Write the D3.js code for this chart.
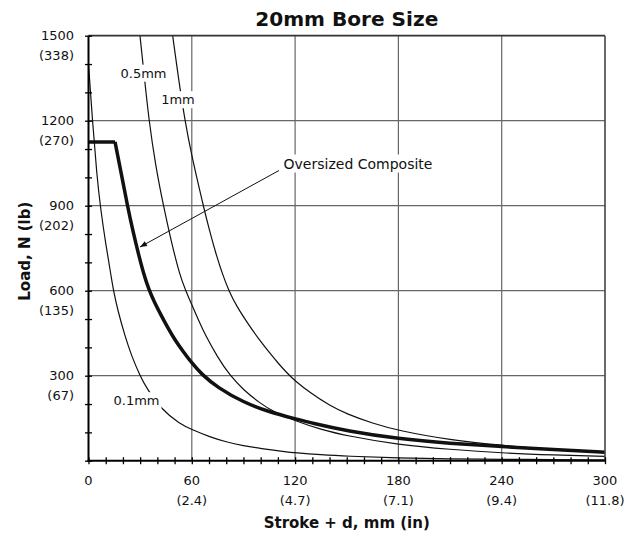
<!DOCTYPE html>
<html>
<head>
<meta charset="utf-8">
<script src="https://cdn.jsdelivr.net/npm/d3@7"></script>
<style>
  body { margin: 0; background: #fff; }
  svg { display: block; }
  text { font-family: "DejaVu Sans", sans-serif; fill: #111; }
</style>
</head>
<body>
<div id="chart"></div>
<script>
// tick values + second-line labels
var xTicks = [0, 60, 120, 180, 240, 300];
var xTickInches = ["", "(2.4)", "(4.7)", "(7.1)", "(9.4)", "(11.8)"];
var yTicks = [300, 600, 900, 1200, 1500];
var yTickPounds = ["(67)", "(135)", "(202)", "(270)", "(338)"];

// curves: [stroke + d (mm), load (N)]
var curve01 = [[0,1400],[2.3,1200],[4.8,1010],[7,890],[10,765],[13.5,638],[14.4,605],[17,530],[21.2,440],[25,370],
  [29.9,300],[33.8,255],[42.5,180],[53,130],[60,110],[70,85],[80,66],[90,53],[100,43],[114,32],[120,28],
  [135,21],[150,16],[180,9],[210,6],[240,5],[270,4],[300,3]];
var curve05 = [[29.9,1500],[32,1380],[35.1,1200],[39,1040],[43.5,900],[48,775],[53,655],[56.5,600],[60,550],
  [64,495],[67.7,445],[75,365],[82.2,300],[90,250],[99.6,203],[107.3,173],[120,141],[135,110],[150,88],
  [180,56],[210,40],[240,27],[270,20],[300,15]];
var curve1 = [[48.9,1500],[52,1360],[56,1200],[60,1075],[64.4,960],[66.7,900],[70,818],[74,730],[78,655],
  [81.5,600],[86,545],[92.8,482],[100,420],[105.4,379],[110,345],[116,305],[120,282],[128.6,240],[140,195],
  [150,165],[165,132],[180,106],[210,73],[240,54],[270,39],[300,28]];
var oversized = [[0,1125],[15.4,1125],[19,1015],[22.6,900],[26,805],[29,730],[32,660],[35,605],[38,563],
  [42,515],[46,470],[50,428],[55,385],[60,345],[65.7,305],[75,258],[90,206],[105,172],[120,148],[130,132],
  [150,105],[180,77],[210,61],[240,50],[270,39],[300,30]];

var width = 626, height = 535;
var pLeft = 88.5, pRight = 605, pTop = 35.7, pBottom = 460.7;

var svg = d3.select("#chart").append("svg")
    .attr("width", width)
    .attr("height", height);

var x = d3.scaleLinear().domain([0, 300]).range([pLeft, pRight]);
var y = d3.scaleLinear().domain([0, 1500]).range([pBottom, pTop]);

svg.append("defs").append("clipPath").attr("id", "plot")
  .append("rect")
    .attr("x", pLeft).attr("y", pTop)
    .attr("width", pRight - pLeft).attr("height", pBottom - pTop);

// grid
var grid = svg.append("g").attr("stroke", "#666").attr("stroke-width", 1.2);
grid.selectAll(".vg").data(xTicks.slice(1, -1)).enter().append("line")
    .attr("x1", d => x(d)).attr("x2", d => x(d))
    .attr("y1", pTop).attr("y2", pBottom);
grid.selectAll(".hg").data(yTicks.slice(0, -1)).enter().append("line")
    .attr("x1", pLeft).attr("x2", pRight)
    .attr("y1", d => y(d)).attr("y2", d => y(d));

// curves (b-spline smooths out the reading noise)
var line = d3.line()
    .x(d => x(d[0]))
    .y(d => y(d[1]))
    .curve(d3.curveBasis);
var straight = d3.line().x(d => x(d[0])).y(d => y(d[1]));

var curves = svg.append("g").attr("clip-path", "url(#plot)").attr("fill", "none");
[curve01, curve05, curve1].forEach(function(c) {
  curves.append("path")
    .attr("d", line(c))
    .attr("stroke", "#111")
    .attr("stroke-width", 1.2);
});
curves.append("path")
    .attr("d", straight(oversized.slice(0, 2)))
    .attr("stroke", "#111").attr("stroke-width", 3.5);
curves.append("path")
    .attr("d", line(oversized.slice(1)))
    .attr("stroke", "#111").attr("stroke-width", 3.5);

// curve labels with white backing
function label(txt, cx, cy, size) {
  var g = svg.append("g");
  var t = g.append("text")
      .attr("x", cx).attr("y", cy)
      .attr("text-anchor", "middle")
      .attr("dy", "0.36em")
      .style("font-size", size + "px")
      .text(txt);
  var b = t.node().getBBox();
  g.insert("rect", "text")
      .attr("x", b.x - 2).attr("y", b.y - 1)
      .attr("width", b.width + 4).attr("height", b.height + 2)
      .attr("fill", "#fff");
}
label("0.5mm", 143.5, 73, 13);
label("1mm", 178, 99.5, 13);
label("0.1mm", 136.5, 400.5, 13);
label("Oversized Composite", 358, 163.5, 14);

// arrow
svg.append("defs").append("marker")
    .attr("id", "arrowhead")
    .attr("viewBox", "0 -5 10 10")
    .attr("refX", 10).attr("refY", 0)
    .attr("orient", "auto")
    .attr("markerUnits", "userSpaceOnUse")
    .attr("markerWidth", 9).attr("markerHeight", 7)
  .append("path")
    .attr("d", "M0,-4L10,0L0,4Z")
    .attr("fill", "#111");
svg.append("line")
    .attr("x1", 279).attr("y1", 170.5)
    .attr("x2", 140).attr("y2", 247)
    .attr("stroke", "#111").attr("stroke-width", 1)
    .attr("marker-end", "url(#arrowhead)");

// frame: top + right darker, left + bottom axis black
svg.append("line").attr("x1", pLeft).attr("x2", pRight).attr("y1", pTop).attr("y2", pTop)
    .attr("stroke", "#333").attr("stroke-width", 1.8);
svg.append("line").attr("x1", pRight).attr("x2", pRight).attr("y1", pTop).attr("y2", pBottom)
    .attr("stroke", "#444").attr("stroke-width", 1.6);
svg.append("line").attr("x1", pLeft).attr("x2", pLeft).attr("y1", pTop).attr("y2", pBottom + 1)
    .attr("stroke", "#000").attr("stroke-width", 2);
svg.append("line").attr("x1", pLeft - 1).attr("x2", pRight).attr("y1", pBottom).attr("y2", pBottom)
    .attr("stroke", "#000").attr("stroke-width", 2);

// ticks crossing the axes
var yAxis = svg.append("g")
    .attr("transform", "translate(" + (pLeft + 3.5) + ",0)")
    .call(d3.axisLeft(y).tickValues(d3.range(0, 1501, 100)).tickSize(7).tickFormat(""));
var xAxis = svg.append("g")
    .attr("transform", "translate(0," + (pBottom - 3.5) + ")")
    .call(d3.axisBottom(x).tickValues(d3.range(0, 301, 10)).tickSize(7).tickFormat(""));
[yAxis, xAxis].forEach(function(a) {
  a.select(".domain").remove();
  a.selectAll(".tick line").attr("stroke", "#000").attr("stroke-width", 1.3);
});

// y tick labels
yTicks.forEach(function(v, i) {
  svg.append("text")
      .attr("x", 74).attr("y", y(v) + 4.7)
      .attr("text-anchor", "end")
      .style("font-size", "13px")
      .text(v);
  svg.append("text")
      .attr("x", 74).attr("y", y(v) + 24)
      .attr("text-anchor", "end")
      .style("font-size", "13px")
      .text(yTickPounds[i]);
});

// x tick labels
xTicks.forEach(function(v, i) {
  svg.append("text")
      .attr("x", x(v)).attr("y", 484.5)
      .attr("text-anchor", "middle")
      .style("font-size", "13px")
      .text(v);
  svg.append("text")
      .attr("x", x(v)).attr("y", 505)
      .attr("text-anchor", "middle")
      .style("font-size", "13px")
      .text(xTickInches[i]);
});

// titles
svg.append("text")
    .attr("x", (pLeft + pRight) / 2).attr("y", 25.5)
    .attr("text-anchor", "middle")
    .attr("textLength", 183).attr("lengthAdjust", "spacingAndGlyphs")
    .style("font-size", "19px").style("font-weight", "bold")
    .text("20mm Bore Size");

svg.append("text")
    .attr("x", (pLeft + pRight) / 2).attr("y", 527.5)
    .attr("text-anchor", "middle")
    .style("font-size", "15px").style("font-weight", "bold")
    .text("Stroke + d, mm (in)");

svg.append("text")
    .attr("transform", "translate(29.5," + ((pTop + pBottom) / 2 + 3) + ") rotate(-90)")
    .attr("text-anchor", "middle")
    .style("font-size", "15px").style("font-weight", "bold")
    .text("Load, N (lb)");
</script>
</body>
</html>
